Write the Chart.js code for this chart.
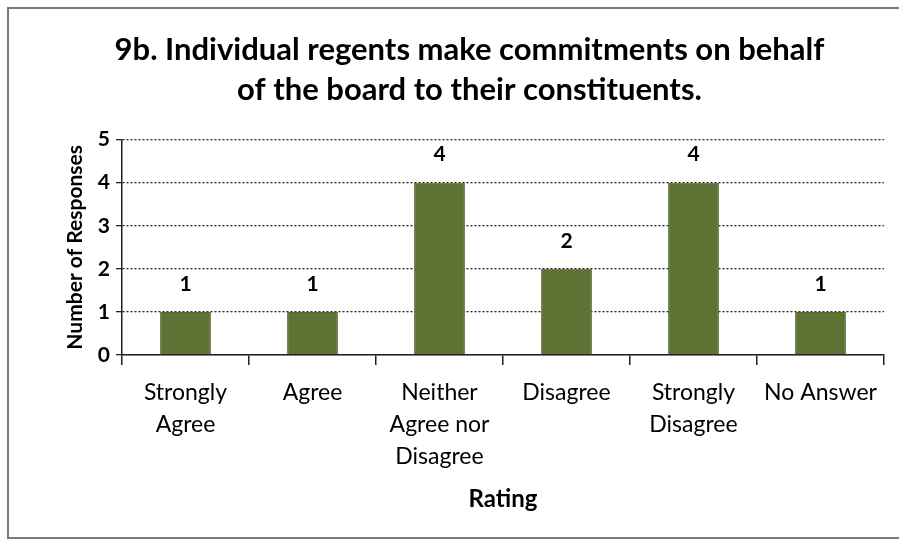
<!DOCTYPE html>
<html>
<head>
<meta charset="utf-8">
<script src="https://cdn.jsdelivr.net/npm/chart.js@4/dist/chart.umd.min.js"></script>
<style>
  html, body { margin: 0; padding: 0; background: #fff; }
  #wrap { width: 899px; height: 542px; position: relative; }
</style>
</head>
<body>
<div id="wrap"><canvas id="c" width="899" height="542"></canvas></div>
<script>
const categories = [
  ['Strongly', 'Agree'],
  ['Agree'],
  ['Neither', 'Agree nor', 'Disagree'],
  ['Disagree'],
  ['Strongly', 'Disagree'],
  ['No Answer']
];
const responses = [1, 1, 4, 2, 4, 1];
const yTicks = [0, 1, 2, 3, 4, 5];
const titleLines = ['9b. Individual regents make commitments on behalf', 'of the board to their constituents.'];

const FONT = 'Lato, "Open Sans", sans-serif';

const framePlugin = {
  id: 'frame',
  beforeDraw(chart) {
    const ctx = chart.ctx;
    ctx.save();
    ctx.fillStyle = '#ffffff';
    ctx.fillRect(0, 0, chart.width, chart.height);
    ctx.strokeStyle = '#7a7a7a';
    ctx.lineWidth = 2;
    ctx.strokeRect(8, 8, chart.width + 10, chart.height - 12);
    ctx.restore();
  }
};

const valueLabels = {
  id: 'valueLabels',
  afterDatasetsDraw(chart) {
    const ctx = chart.ctx;
    const meta = chart.getDatasetMeta(0);
    ctx.save();
    ctx.font = 'bold 21px ' + FONT;
    ctx.fillStyle = '#000';
    ctx.textAlign = 'center';
    ctx.textBaseline = 'middle';
    meta.data.forEach((bar, i) => {
      ctx.fillText(String(chart.data.datasets[0].data[i]), bar.x, bar.y - 28);
    });
    ctx.restore();
  }
};

new Chart(document.getElementById('c'), {
  type: 'bar',
  data: {
    labels: categories,
    datasets: [{
      data: responses,
      backgroundColor: '#5c7333',
      borderColor: '#55692f',
      borderWidth: 1,
      categoryPercentage: 0.4,
      barPercentage: 1.0
    }]
  },
  options: {
    responsive: false,
    animation: false,
    devicePixelRatio: 1,
    layout: { padding: { left: 55, right: 15, top: 0, bottom: 28 } },
    plugins: {
      legend: { display: false },
      tooltip: { enabled: false },
      title: {
        display: true,
        text: titleLines,
        color: '#000',
        font: { family: FONT, size: 31, weight: 'bold', lineHeight: 1.3 },
        padding: { top: 30, bottom: 29 }
      }
    },
    scales: {
      x: {
        offset: true,
        grid: { display: true, drawOnChartArea: false, offset: true, color: '#222', tickLength: 10, lineWidth: 1.5 },
        border: { display: true, color: '#222', width: 1.5 },
        ticks: {
          color: '#000',
          font: { family: FONT, size: 23, lineHeight: 1.41 },
          maxRotation: 0,
          autoSkip: false,
          padding: 11
        },
        title: {
          display: true,
          text: 'Rating',
          color: '#000',
          font: { family: FONT, size: 24, weight: 'bold' },
          padding: { top: 6, bottom: 0 }
        },
        afterFit(scale) { scale.height = 159; }
      },
      y: {
        min: 0,
        max: 5,
        afterBuildTicks(scale) { scale.ticks = yTicks.map(v => ({ value: v })); },
        grid: {
          color: '#222',
          lineWidth: 1.3,
          tickLength: 6,
          tickBorderDash: [],
          drawTicks: true
        },
        border: { display: true, color: '#222', width: 1.5, dash: [2, 2] },
        ticks: {
          color: '#000',
          font: { family: FONT, size: 21, weight: 'bold' },
          padding: 6
        },
        title: {
          display: true,
          text: 'Number of Responses',
          color: '#000',
          font: { family: FONT, size: 21, weight: 'bold' },
          padding: { top: 8, bottom: 4 }
        },
        afterFit(scale) { scale.width = 67; }
      }
    }
  },
  plugins: [framePlugin, valueLabels]
});
</script>
</body>
</html>
